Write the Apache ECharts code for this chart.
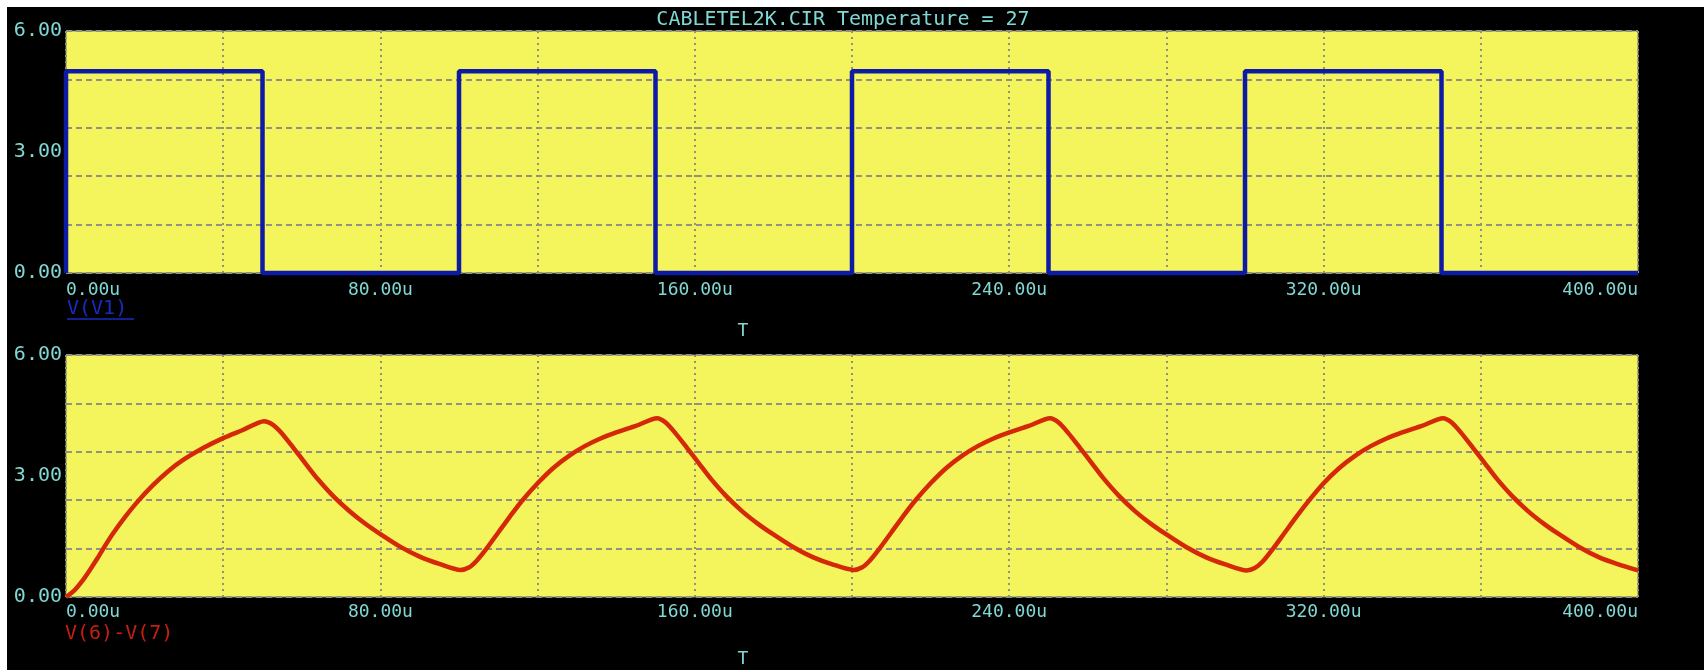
<!DOCTYPE html>
<html>
<head>
<meta charset="utf-8">
<script src="https://cdn.jsdelivr.net/npm/echarts@6/dist/echarts.min.js"></script>
<style>
html,body{margin:0;padding:0;background:#fff;width:1704px;height:670px;overflow:hidden;}
#c{position:absolute;left:7px;top:7px;width:1697px;height:663px;background:#000;}
</style>
</head>
<body>
<div id="c"></div>
<script>
// ---- data ----
var titleText = 'CABLETEL2K.CIR Temperature = 27';
var topLabel = 'V(V1)';
var bottomLabel = 'V(6)-V(7)';
var xName = 'T';
var xTicksMajor = [0, 80, 160, 240, 320, 400];
var yTicksLabel = [0, 3, 6];

var pulseT = [0, 0, 50, 50, 100, 100, 150, 150, 200, 200, 250, 250, 300, 300, 350, 350, 400];
var pulseV = [0, 5, 5, 0, 0, 5, 5, 0, 0, 5, 5, 0, 0, 5, 5, 0, 0];

var redT = [0, 2, 4, 6, 8, 10, 12, 15, 18, 22, 26, 30, 35, 40, 45, 50.4, 52.5, 55, 58, 61, 64, 68, 72, 76, 80, 85, 90, 95, 100.4,
  102.5, 104.5, 107, 110, 113, 116, 120, 124, 128, 132, 136, 140, 145, 150.4, 152.5, 155, 158, 161, 164, 168, 172, 176, 180, 185, 190, 195, 200.4,
  202.5, 204.5, 207, 210, 213, 216, 220, 224, 228, 232, 236, 240, 245, 250.4, 252.5, 255, 258, 261, 264, 268, 272, 276, 280, 285, 290, 295, 300.4,
  302.5, 304.5, 307, 310, 313, 316, 320, 324, 328, 332, 336, 340, 345, 350.4, 352.5, 355, 358, 361, 364, 368, 372, 376, 380, 385, 390, 395, 400];
var redV = [0, 0.15, 0.38, 0.66, 0.96, 1.28, 1.58, 1.98, 2.34, 2.76, 3.12, 3.41, 3.7, 3.94, 4.14, 4.36, 4.28, 4.05, 3.68, 3.3, 2.93, 2.5, 2.14, 1.83, 1.56, 1.25, 1.0, 0.82, 0.67,
  0.73, 0.9, 1.2, 1.6, 2.0, 2.38, 2.82, 3.2, 3.5, 3.74, 3.93, 4.08, 4.24, 4.43, 4.33, 4.07, 3.7, 3.32, 2.94, 2.5, 2.13, 1.82, 1.55, 1.24, 0.99, 0.81, 0.67,
  0.73, 0.9, 1.2, 1.6, 2.0, 2.38, 2.82, 3.2, 3.5, 3.74, 3.93, 4.08, 4.24, 4.43, 4.33, 4.07, 3.7, 3.32, 2.94, 2.5, 2.13, 1.82, 1.55, 1.24, 0.99, 0.81, 0.66,
  0.72, 0.88, 1.18, 1.58, 1.98, 2.36, 2.82, 3.2, 3.5, 3.74, 3.93, 4.08, 4.24, 4.43, 4.33, 4.07, 3.7, 3.32, 2.94, 2.5, 2.13, 1.82, 1.55, 1.24, 0.99, 0.81, 0.66];

// ---- styling ----
var cyan = '#7fd8d4';
var font = '"DejaVu Sans Mono", monospace';
var yellow = '#f4f45c';
var gridCol = '#929282';

function zip(a, b) { return a.map(function (v, i) { return [v, b[i]]; }); }

function xAxisFor(gi, margin) {
  return {
    type: 'value', gridIndex: gi, min: 0, max: 400, interval: 40,
    axisLine: {show: false}, axisTick: {show: false},
    splitLine: {show: true, lineStyle: {color: gridCol, type: [2, 4], width: 2}},
    axisLabel: {
      color: cyan, fontFamily: font, fontSize: 18, margin: margin,
      alignMinLabel: 'left', alignMaxLabel: 'right',
      showMinLabel: true, showMaxLabel: true,
      formatter: function (v) { return xTicksMajor.indexOf(v) >= 0 ? v.toFixed(2) + 'u' : ''; }
    }
  };
}
function yGridAxis(gi) {
  return {
    type: 'value', gridIndex: gi, position: 'left', min: 0, max: 6, interval: 1.2,
    axisLine: {show: false}, axisTick: {show: false}, axisLabel: {show: false},
    splitLine: {show: true, lineStyle: {color: gridCol, type: [6, 4], width: 2}}
  };
}
function yLabelAxis(gi) {
  return {
    type: 'value', gridIndex: gi, position: 'left', min: 0, max: 6, interval: 3,
    axisLine: {show: false}, axisTick: {show: false}, splitLine: {show: false},
    axisLabel: {color: cyan, fontFamily: font, fontSize: 20, margin: 4,
      formatter: function (v) { return yTicksLabel.indexOf(v) >= 0 ? v.toFixed(2) : ''; }}
  };
}

var chart = echarts.init(document.getElementById('c'));
chart.setOption({
  backgroundColor: '#000',
  animation: false,
  grid: [
    {left: 59, top: 24, width: 1572, height: 242, show: true, backgroundColor: yellow, borderColor: '#8a8a6a', borderWidth: 1},
    {left: 59, top: 348, width: 1572, height: 242, show: true, backgroundColor: yellow, borderColor: '#8a8a6a', borderWidth: 1}
  ],
  xAxis: [xAxisFor(0, 8), xAxisFor(1, 6)],
  yAxis: [yGridAxis(0), yLabelAxis(0), yGridAxis(1), yLabelAxis(1)],
  series: [
    {type: 'line', xAxisIndex: 0, yAxisIndex: 0, data: zip(pulseT, pulseV), showSymbol: false,
      lineStyle: {color: '#0c1aa6', width: 4.5}, clip: false},
    {type: 'line', xAxisIndex: 1, yAxisIndex: 2, data: zip(redT, redV), showSymbol: false,
      smooth: 0.25,
      lineStyle: {color: '#d42808', width: 4.5}}
  ],
  graphic: [
    {type: 'text', x: 836, y: 13, style: {text: titleText, fill: cyan, font: '20px ' + font, textAlign: 'center', textVerticalAlign: 'middle'}},
    {type: 'text', x: 60, y: 302, style: {text: topLabel, fill: '#1a2cc0', font: '20px ' + font, textVerticalAlign: 'middle'}},
    {type: 'line', shape: {x1: 60, y1: 312, x2: 127, y2: 312}, style: {stroke: '#1a2cc0', lineWidth: 1.5}},
    {type: 'text', x: 736, y: 324, style: {text: xName, fill: cyan, font: '18px ' + font, textAlign: 'center', textVerticalAlign: 'middle'}},
    {type: 'text', x: 58, y: 627, style: {text: bottomLabel, fill: '#c81e10', font: '20px ' + font, textVerticalAlign: 'middle'}},
    {type: 'text', x: 736, y: 652, style: {text: xName, fill: cyan, font: '18px ' + font, textAlign: 'center', textVerticalAlign: 'middle'}}
  ]
});
</script>
</body>
</html>
